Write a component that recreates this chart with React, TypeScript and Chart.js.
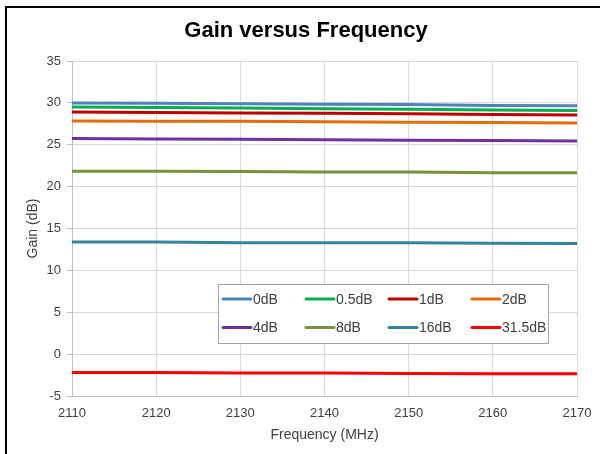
import React, { useEffect, useRef } from "react";
import { Chart, registerables } from "chart.js";

Chart.register(...registerables);

const frequencies = [2110, 2120, 2130, 2140, 2150, 2160, 2170];
const seriesLabels = ["0dB", "0.5dB", "1dB", "2dB", "4dB", "8dB", "16dB", "31.5dB"];
const gain0 = [30.0, 29.95, 29.9, 29.85, 29.8, 29.7, 29.65];
const gain05 = [29.5, 29.45, 29.4, 29.3, 29.25, 29.15, 29.1];
const gain1 = [28.9, 28.85, 28.8, 28.75, 28.7, 28.6, 28.55];
const gain2 = [27.85, 27.8, 27.8, 27.75, 27.7, 27.65, 27.6];
const gain4 = [25.75, 25.7, 25.65, 25.6, 25.55, 25.5, 25.45];
const gain8 = [21.85, 21.85, 21.8, 21.75, 21.75, 21.65, 21.65];
const gain16 = [13.4, 13.4, 13.3, 13.3, 13.3, 13.25, 13.2];
const gain315 = [-2.2, -2.2, -2.25, -2.25, -2.3, -2.35, -2.35];
const seriesColors = ["#4F81BD", "#00B050", "#C00000", "#E46C0A", "#7030A0", "#77933C", "#31859C", "#FF0000"];
const xTicks = [2110, 2120, 2130, 2140, 2150, 2160, 2170];
const yTicks = [-5, 0, 5, 10, 15, 20, 25, 30, 35];
const chartTitle = "Gain versus Frequency";

const FONT = "'Liberation Sans', Arial, sans-serif";

const titlePlugin = {
  id: "offsetTitle",
  afterDraw(chart: any) {
    const { ctx } = chart;
    ctx.save();
    ctx.font = `bold 22px ${FONT}`;
    ctx.fillStyle = "#000000";
    ctx.textAlign = "center";
    ctx.textBaseline = "middle";
    ctx.fillText(chartTitle, 306, 31);
    ctx.restore();
  },
};

const boxLegend = {
  id: "boxLegend",
  afterDatasetsDraw(chart: any) {
    const { ctx, chartArea } = chart;
    const left = chartArea.left + 146;
    const top = chartArea.top + 223;
    const w = 330;
    const h = 59;
    ctx.save();
    ctx.fillStyle = "#ffffff";
    ctx.fillRect(left, top, w, h);
    ctx.strokeStyle = "#a6a6a6";
    ctx.lineWidth = 1;
    ctx.strokeRect(left + 0.5, top + 0.5, w, h);
    ctx.font = `14px ${FONT}`;
    ctx.textBaseline = "middle";
    ctx.textAlign = "left";
    chart.data.datasets.forEach((ds: any, i: number) => {
      const col = i % 4;
      const row = Math.floor(i / 4);
      const x = left + 5 + col * 83;
      const y = top + 15 + row * 28.5;
      ctx.strokeStyle = ds.borderColor;
      ctx.lineWidth = 3;
      ctx.lineCap = "round";
      ctx.beginPath();
      ctx.moveTo(x, y);
      ctx.lineTo(x + 28, y);
      ctx.stroke();
      ctx.fillStyle = "#404040";
      ctx.fillText(ds.label, x + 30, y + 1);
    });
    ctx.restore();
  },
};

export default function App() {
  const ref = useRef<HTMLCanvasElement>(null);
  useEffect(() => {
    const values = [gain0, gain05, gain1, gain2, gain4, gain8, gain16, gain315];
    const chart = new Chart(ref.current as HTMLCanvasElement, {
      type: "line",
      data: {
        datasets: values.map((v, i) => ({
          label: seriesLabels[i],
          data: frequencies.map((f, j) => ({ x: f, y: v[j] })),
          borderColor: seriesColors[i],
          backgroundColor: seriesColors[i],
          borderWidth: 3,
          pointRadius: 0,
          tension: 0,
        })),
      },
      options: {
        animation: false,
        responsive: false,
        devicePixelRatio: 1,
        layout: { padding: { top: 61, left: 8, right: 23, bottom: 8 } },
        plugins: {
          legend: { display: false },
          tooltip: { enabled: false },
          title: { display: false },
        },
        scales: {
          x: {
            type: "linear",
            min: 2110,
            max: 2170,
            afterBuildTicks: (s: any) => {
              s.ticks = xTicks.map((v) => ({ value: v }));
            },
            afterFit: (s: any) => {
              s.height = 50;
              s.paddingLeft = 0;
              s.paddingRight = 0;
            },
            ticks: {
              color: "#404040",
              font: { family: FONT, size: 13 },
              padding: 10,
              maxRotation: 0,
              autoSkip: false,
              callback: (v: any) => String(v),
            },
            grid: { color: "#d9d9d9", lineWidth: 1, tickLength: 5, drawTicks: false },
            border: { color: "#bfbfbf" },
            title: {
              display: true,
              text: "Frequency (MHz)",
              color: "#404040",
              font: { family: FONT, size: 14 },
              padding: { top: 0, bottom: 2 },
            },
          },
          y: {
            type: "linear",
            min: -5,
            max: 35,
            afterBuildTicks: (s: any) => {
              s.ticks = yTicks.map((v) => ({ value: v }));
            },
            afterFit: (s: any) => {
              s.width = 64;
            },
            ticks: {
              color: "#404040",
              font: { family: FONT, size: 13 },
              padding: 6,
            },
            grid: { color: "#d9d9d9", lineWidth: 1, tickLength: 5, tickColor: "#bfbfbf" },
            border: { color: "#bfbfbf" },
            title: {
              display: true,
              text: "Gain (dB)",
              color: "#404040",
              font: { family: FONT, size: 14 },
              padding: { top: 17, bottom: 0 },
            },
          },
        },
      },
      plugins: [boxLegend, titlePlugin],
    });
    return () => chart.destroy();
  }, []);
  return (
    <div style={{ position: "fixed", left: 0, top: 0, width: 600, height: 454, background: "#fff", overflow: "hidden" }}>
      <canvas ref={ref} width={600} height={454} style={{ position: "absolute", left: 0, top: 0 }} />
      <div
        style={{
          position: "absolute",
          left: 5,
          top: 6,
          width: 700,
          height: 600,
          borderLeft: "2px solid #000",
          borderTop: "2px solid #000",
          pointerEvents: "none",
        }}
      />
    </div>
  );
}
